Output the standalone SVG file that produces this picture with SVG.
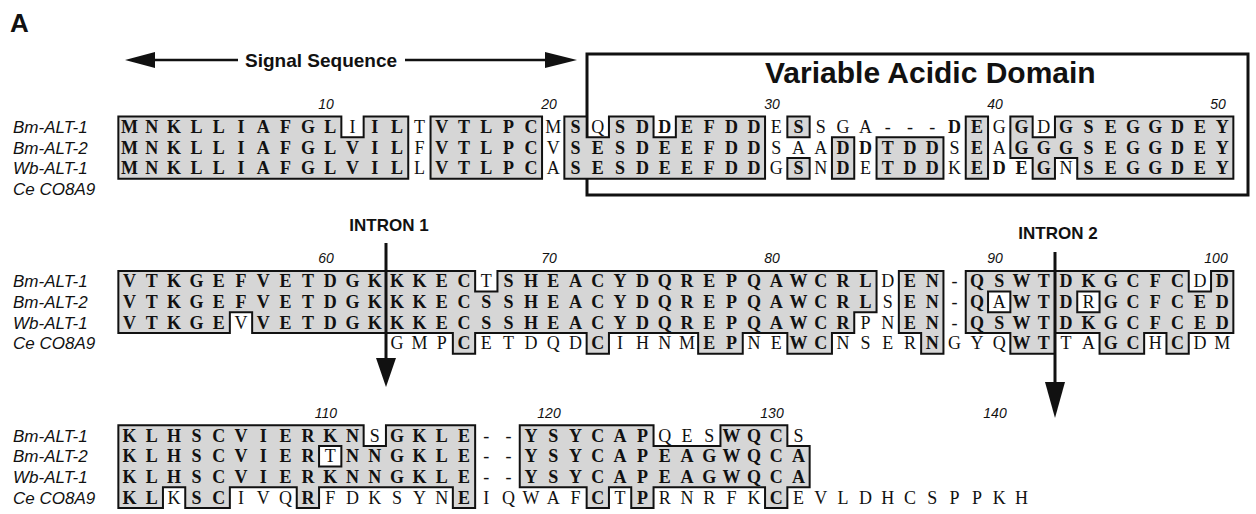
<svg xmlns="http://www.w3.org/2000/svg" width="1256" height="514" viewBox="0 0 1256 514">
<style>
.seq{font-family:"Liberation Serif","Times New Roman",serif;font-size:18px;font-weight:bold;text-anchor:middle;fill:#111}
.seq .r{font-weight:normal}
.lab{font-family:"Liberation Sans",Arial,sans-serif;font-style:italic;font-size:17px;fill:#111}
.num{font-family:"Liberation Sans",Arial,sans-serif;font-style:italic;font-size:14px;text-anchor:middle;fill:#111}
.hd{font-family:"Liberation Sans",Arial,sans-serif;font-weight:bold;fill:#111}
.fill{fill:#d6d6d6}
.bord{fill:none;stroke:#111;stroke-width:2;stroke-linecap:square;vector-effect:non-scaling-stroke}
.ln{stroke:#111;stroke-width:2.5;fill:none}
.il{stroke:#111;stroke-width:3;fill:none}
</style>
<rect width="1256" height="514" fill="#fff"/>
<text class="hd" x="10" y="32" font-size="26">A</text>
<g id="signal-sequence">
<line class="ln" x1="150" y1="60" x2="238" y2="60"/>
<polygon points="125,60 155,52 155,68" fill="#111"/>
<text class="hd" x="245" y="66.5" font-size="19">Signal Sequence</text>
<line class="ln" x1="405" y1="60" x2="550" y2="60"/>
<polygon points="577,60 545,52 545,68" fill="#111"/>
</g>
<g id="variable-acidic-domain">
<rect x="587" y="54" width="661" height="141" fill="none" stroke="#111" stroke-width="3"/>
<text class="hd" x="765" y="83" font-size="30">Variable Acidic Domain</text>
</g>
<g id="labels">
<text class="lab" x="13" y="133">Bm-ALT-1</text>
<text class="lab" x="13" y="153.7">Bm-ALT-2</text>
<text class="lab" x="13" y="174.4">Wb-ALT-1</text>
<text class="lab" x="13" y="195.1">Ce CO8A9</text>
<text class="lab" x="13" y="287.3">Bm-ALT-1</text>
<text class="lab" x="13" y="308">Bm-ALT-2</text>
<text class="lab" x="13" y="328.7">Wb-ALT-1</text>
<text class="lab" x="13" y="349.4">Ce CO8A9</text>
<text class="lab" x="13" y="441.6">Bm-ALT-1</text>
<text class="lab" x="13" y="462.3">Bm-ALT-2</text>
<text class="lab" x="13" y="483">Wb-ALT-1</text>
<text class="lab" x="13" y="503.7">Ce CO8A9</text>
</g>
<g id="numbers">
<text class="num" x="326" y="109">10</text>
<text class="num" x="549" y="109">20</text>
<text class="num" x="772" y="109">30</text>
<text class="num" x="995" y="109">40</text>
<text class="num" x="1218" y="109">50</text>
<text class="num" x="326" y="263.3">60</text>
<text class="num" x="549" y="263.3">70</text>
<text class="num" x="772" y="263.3">80</text>
<text class="num" x="995" y="263.3">90</text>
<text class="num" x="1216" y="263.3">100</text>
<text class="num" x="326" y="417.6">110</text>
<text class="num" x="549" y="417.6">120</text>
<text class="num" x="772" y="417.6">130</text>
<text class="num" x="995" y="417.6">140</text>
</g>
<g id="block1">
<g transform="translate(118.35,116.6) scale(22.3,20.7)">
<path class="fill" d="M0 0h10v1h-10zM11 0h2v1h-2zM14 0h5v1h-5zM20 0h1v1h-1zM22 0h2v1h-2zM25 0h4v1h-4zM30 0h1v1h-1zM38 0h1v1h-1zM40 0h1v1h-1zM42 0h8v1h-8zM0 1h13v1h-13zM14 1h5v1h-5zM20 1h9v1h-9zM32 1h1v1h-1zM34 1h3v1h-3zM38 1h1v1h-1zM40 1h10v1h-10zM0 2h13v1h-13zM14 2h5v1h-5zM20 2h9v1h-9zM30 2h1v1h-1zM32 2h1v1h-1zM34 2h3v1h-3zM38 2h1v1h-1zM41 2h1v1h-1zM43 2h7v1h-7z"/>
<path class="bord" d="M0 0H10M11 0H13M14 0H19M20 0H21M22 0H24M25 0H29M30 0H31M38 0H39M40 0H41M42 0H50M10 1H11M21 1H22M24 1H25M30 1H31M32 1H33M34 1H37M41 1H42M30 2H31M40 2H41M42 2H43M0 3H13M14 3H19M20 3H29M30 3H31M32 3H33M34 3H37M38 3H39M41 3H42M43 3H50M0 0V3M10 0V1M11 0V1M13 0V3M14 0V3M19 0V3M20 0V3M21 0V1M22 0V1M24 0V1M25 0V1M29 0V3M30 0V1M31 0V1M38 0V3M39 0V3M40 0V2M41 0V1M42 0V1M50 0V3M32 1V3M33 1V3M34 1V3M37 1V3M30 2V3M31 2V3M41 2V3M42 2V3M43 2V3"/>
</g>
<text class="seq" y="133" x="129.5 151.8 174.1 196.4 218.7 241 263.3 285.6 307.9 330.2 352.5 374.8 397.1 419.4 441.7 464 486.3 508.6 530.9 553.2 575.5 597.8 620.1 642.4 664.7 687 709.3 731.6 753.9 776.2 798.5 820.8 843.1 865.4 887.7 910 932.3 954.6 976.9 999.2 1021.5 1043.8 1066.1 1088.4 1110.7 1133 1155.3 1177.6 1199.9 1222.2"><tspan>MNKLLIAFGL</tspan><tspan class="r">I</tspan><tspan>IL</tspan><tspan class="r">T</tspan><tspan>VTLPC</tspan><tspan class="r">M</tspan><tspan>S</tspan><tspan class="r">Q</tspan><tspan>SDDEFDD</tspan><tspan class="r">E</tspan><tspan>S</tspan><tspan class="r">SGA---</tspan><tspan>DE</tspan><tspan class="r">G</tspan><tspan>G</tspan><tspan class="r">D</tspan><tspan>GSEGGDEY</tspan></text>
<text class="seq" y="153.7" x="129.5 151.8 174.1 196.4 218.7 241 263.3 285.6 307.9 330.2 352.5 374.8 397.1 419.4 441.7 464 486.3 508.6 530.9 553.2 575.5 597.8 620.1 642.4 664.7 687 709.3 731.6 753.9 776.2 798.5 820.8 843.1 865.4 887.7 910 932.3 954.6 976.9 999.2 1021.5 1043.8 1066.1 1088.4 1110.7 1133 1155.3 1177.6 1199.9 1222.2"><tspan>MNKLLIAFGLVIL</tspan><tspan class="r">F</tspan><tspan>VTLPC</tspan><tspan class="r">V</tspan><tspan>SESDEEFDD</tspan><tspan class="r">SAA</tspan><tspan>DDTDD</tspan><tspan class="r">S</tspan><tspan>E</tspan><tspan class="r">A</tspan><tspan>GGGSEGGDEY</tspan></text>
<text class="seq" y="174.4" x="129.5 151.8 174.1 196.4 218.7 241 263.3 285.6 307.9 330.2 352.5 374.8 397.1 419.4 441.7 464 486.3 508.6 530.9 553.2 575.5 597.8 620.1 642.4 664.7 687 709.3 731.6 753.9 776.2 798.5 820.8 843.1 865.4 887.7 910 932.3 954.6 976.9 999.2 1021.5 1043.8 1066.1 1088.4 1110.7 1133 1155.3 1177.6 1199.9 1222.2"><tspan>MNKLLIAFGLVIL</tspan><tspan class="r">L</tspan><tspan>VTLPC</tspan><tspan class="r">A</tspan><tspan>SESDEEFDD</tspan><tspan class="r">G</tspan><tspan>S</tspan><tspan class="r">N</tspan><tspan>D</tspan><tspan class="r">E</tspan><tspan>TDD</tspan><tspan class="r">K</tspan><tspan>EDEG</tspan><tspan class="r">N</tspan><tspan>SEGGDEY</tspan></text>
</g>
<g id="block2">
<g transform="translate(118.35,270.9) scale(22.3,20.7)">
<path class="fill" d="M0 0h16v1h-16zM17 0h17v1h-17zM35 0h2v1h-2zM38 0h10v1h-10zM49 0h1v1h-1zM0 1h34v1h-34zM35 1h2v1h-2zM38 1h1v1h-1zM40 1h3v1h-3zM44 1h6v1h-6zM0 2h5v1h-5zM6 2h27v1h-27zM35 2h2v1h-2zM38 2h12v1h-12zM15 3h1v1h-1zM21 3h1v1h-1zM26 3h2v1h-2zM30 3h2v1h-2zM36 3h1v1h-1zM40 3h2v1h-2zM44 3h2v1h-2zM47 3h1v1h-1z"/>
<path class="bord" d="M0 0H16M17 0H34M35 0H37M38 0H48M49 0H50M16 1H17M39 1H40M43 1H44M48 1H49M5 2H6M33 2H34M39 2H40M43 2H44M0 3H5M6 3H15M16 3H21M22 3H26M28 3H30M32 3H33M35 3H36M38 3H40M42 3H44M46 3H47M48 3H50M15 4H16M21 4H22M26 4H28M30 4H32M36 4H37M40 4H42M44 4H46M47 4H48M0 0V3M16 0V1M17 0V1M34 0V2M35 0V3M37 0V3M38 0V3M48 0V1M49 0V1M50 0V3M39 1V2M40 1V2M43 1V2M44 1V2M5 2V3M6 2V3M33 2V3M15 3V4M16 3V4M21 3V4M22 3V4M26 3V4M28 3V4M30 3V4M32 3V4M36 3V4M37 3V4M40 3V4M42 3V4M44 3V4M46 3V4M47 3V4M48 3V4"/>
</g>
<text class="seq" y="287.3" x="129.5 151.8 174.1 196.4 218.7 241 263.3 285.6 307.9 330.2 352.5 374.8 397.1 419.4 441.7 464 486.3 508.6 530.9 553.2 575.5 597.8 620.1 642.4 664.7 687 709.3 731.6 753.9 776.2 798.5 820.8 843.1 865.4 887.7 910 932.3 954.6 976.9 999.2 1021.5 1043.8 1066.1 1088.4 1110.7 1133 1155.3 1177.6 1199.9 1222.2"><tspan>VTKGEFVETDGKKKEC</tspan><tspan class="r">T</tspan><tspan>SHEACYDQREPQAWCRL</tspan><tspan class="r">D</tspan><tspan>EN</tspan><tspan class="r">-</tspan><tspan>QSWTDKGCFC</tspan><tspan class="r">D</tspan><tspan>D</tspan></text>
<text class="seq" y="308" x="129.5 151.8 174.1 196.4 218.7 241 263.3 285.6 307.9 330.2 352.5 374.8 397.1 419.4 441.7 464 486.3 508.6 530.9 553.2 575.5 597.8 620.1 642.4 664.7 687 709.3 731.6 753.9 776.2 798.5 820.8 843.1 865.4 887.7 910 932.3 954.6 976.9 999.2 1021.5 1043.8 1066.1 1088.4 1110.7 1133 1155.3 1177.6 1199.9 1222.2"><tspan>VTKGEFVETDGKKKECSSHEACYDQREPQAWCRL</tspan><tspan class="r">S</tspan><tspan>EN</tspan><tspan class="r">-</tspan><tspan>Q</tspan><tspan class="r">A</tspan><tspan>WTD</tspan><tspan class="r">R</tspan><tspan>GCFCED</tspan></text>
<text class="seq" y="328.7" x="129.5 151.8 174.1 196.4 218.7 241 263.3 285.6 307.9 330.2 352.5 374.8 397.1 419.4 441.7 464 486.3 508.6 530.9 553.2 575.5 597.8 620.1 642.4 664.7 687 709.3 731.6 753.9 776.2 798.5 820.8 843.1 865.4 887.7 910 932.3 954.6 976.9 999.2 1021.5 1043.8 1066.1 1088.4 1110.7 1133 1155.3 1177.6 1199.9 1222.2"><tspan>VTKGE</tspan><tspan class="r">V</tspan><tspan>VETDGKKKECSSHEACYDQREPQAWCR</tspan><tspan class="r">PN</tspan><tspan>EN</tspan><tspan class="r">-</tspan><tspan>QSWTDKGCFCED</tspan></text>
<text class="seq" y="349.4" x="397.1 419.4 441.7 464 486.3 508.6 530.9 553.2 575.5 597.8 620.1 642.4 664.7 687 709.3 731.6 753.9 776.2 798.5 820.8 843.1 865.4 887.7 910 932.3 954.6 976.9 999.2 1021.5 1043.8 1066.1 1088.4 1110.7 1133 1155.3 1177.6 1199.9 1222.2"><tspan class="r">GMP</tspan><tspan>C</tspan><tspan class="r">ETDQD</tspan><tspan>C</tspan><tspan class="r">IHNM</tspan><tspan>EP</tspan><tspan class="r">NE</tspan><tspan>WC</tspan><tspan class="r">NSER</tspan><tspan>N</tspan><tspan class="r">GYQ</tspan><tspan>WT</tspan><tspan class="r">TA</tspan><tspan>GC</tspan><tspan class="r">H</tspan><tspan>C</tspan><tspan class="r">DM</tspan></text>
</g>
<g id="block3">
<g transform="translate(118.35,425.2) scale(22.3,20.7)">
<path class="fill" d="M0 0h11v1h-11zM12 0h4v1h-4zM18 0h6v1h-6zM27 0h3v1h-3zM0 1h9v1h-9zM10 1h6v1h-6zM18 1h13v1h-13zM0 2h16v1h-16zM18 2h13v1h-13zM0 3h2v1h-2zM3 3h2v1h-2zM8 3h1v1h-1zM15 3h1v1h-1zM21 3h1v1h-1zM23 3h1v1h-1zM29 3h1v1h-1z"/>
<path class="bord" d="M0 0H11M12 0H16M18 0H24M27 0H30M9 1H10M11 1H12M24 1H27M30 1H31M9 2H10M2 3H3M5 3H8M9 3H15M18 3H21M22 3H23M24 3H29M30 3H31M0 4H2M3 4H5M8 4H9M15 4H16M21 4H22M23 4H24M29 4H30M0 0V4M11 0V1M12 0V1M16 0V4M18 0V3M24 0V1M27 0V1M30 0V1M9 1V2M10 1V2M31 1V3M2 3V4M3 3V4M5 3V4M8 3V4M9 3V4M15 3V4M21 3V4M22 3V4M23 3V4M24 3V4M29 3V4M30 3V4"/>
</g>
<text class="seq" y="441.6" x="129.5 151.8 174.1 196.4 218.7 241 263.3 285.6 307.9 330.2 352.5 374.8 397.1 419.4 441.7 464 486.3 508.6 530.9 553.2 575.5 597.8 620.1 642.4 664.7 687 709.3 731.6 753.9 776.2 798.5"><tspan>KLHSCVIERKN</tspan><tspan class="r">S</tspan><tspan>GKLE</tspan><tspan class="r">--</tspan><tspan>YSYCAP</tspan><tspan class="r">QES</tspan><tspan>WQC</tspan><tspan class="r">S</tspan></text>
<text class="seq" y="462.3" x="129.5 151.8 174.1 196.4 218.7 241 263.3 285.6 307.9 330.2 352.5 374.8 397.1 419.4 441.7 464 486.3 508.6 530.9 553.2 575.5 597.8 620.1 642.4 664.7 687 709.3 731.6 753.9 776.2 798.5"><tspan>KLHSCVIER</tspan><tspan class="r">T</tspan><tspan>NNGKLE</tspan><tspan class="r">--</tspan><tspan>YSYCAPEAGWQCA</tspan></text>
<text class="seq" y="483" x="129.5 151.8 174.1 196.4 218.7 241 263.3 285.6 307.9 330.2 352.5 374.8 397.1 419.4 441.7 464 486.3 508.6 530.9 553.2 575.5 597.8 620.1 642.4 664.7 687 709.3 731.6 753.9 776.2 798.5"><tspan>KLHSCVIERKNNGKLE</tspan><tspan class="r">--</tspan><tspan>YSYCAPEAGWQCA</tspan></text>
<text class="seq" y="503.7" x="129.5 151.8 174.1 196.4 218.7 241 263.3 285.6 307.9 330.2 352.5 374.8 397.1 419.4 441.7 464 486.3 508.6 530.9 553.2 575.5 597.8 620.1 642.4 664.7 687 709.3 731.6 753.9 776.2 798.5 820.8 843.1 865.4 887.7 910 932.3 954.6 976.9 999.2 1021.5"><tspan>KL</tspan><tspan class="r">K</tspan><tspan>SC</tspan><tspan class="r">IVQ</tspan><tspan>R</tspan><tspan class="r">FDKSYN</tspan><tspan>E</tspan><tspan class="r">IQWAF</tspan><tspan>C</tspan><tspan class="r">T</tspan><tspan>P</tspan><tspan class="r">RNRFK</tspan><tspan>C</tspan><tspan class="r">EVLDHCSPPKH</tspan></text>
</g>
<g id="introns">
<text class="hd" x="389" y="231" font-size="17" text-anchor="middle">INTRON 1</text>
<line class="il" x1="386" y1="243" x2="386" y2="362"/>
<polygon points="376,358 396,358 386,387" fill="#111"/>
<text class="hd" x="1058" y="239" font-size="17" text-anchor="middle">INTRON 2</text>
<line class="il" x1="1055" y1="252" x2="1055" y2="384"/>
<polygon points="1045,382 1065,382 1055,418" fill="#111"/>
</g>
</svg>
